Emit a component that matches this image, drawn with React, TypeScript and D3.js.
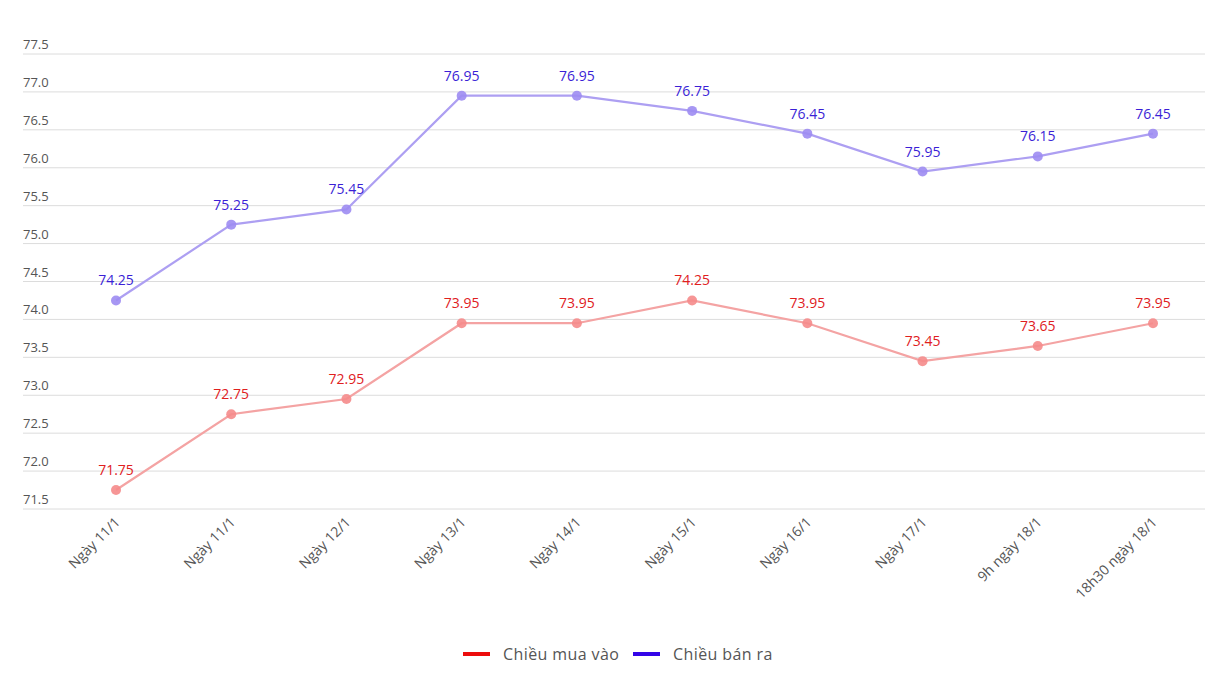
import React from "react";
import * as d3 from "d3";

const categories = ["Ngày 11/1", "Ngày 11/1", "Ngày 12/1", "Ngày 13/1", "Ngày 14/1", "Ngày 15/1", "Ngày 16/1", "Ngày 17/1", "9h ngày 18/1", "18h30 ngày 18/1"];
const buyValues = [71.75, 72.75, 72.95, 73.95, 73.95, 74.25, 73.95, 73.45, 73.65, 73.95];
const sellValues = [74.25, 75.25, 75.45, 76.95, 76.95, 76.75, 76.45, 75.95, 76.15, 76.45];
const yTicks = [71.5, 72.0, 72.5, 73.0, 73.5, 74.0, 74.5, 75.0, 75.5, 76.0, 76.5, 77.0, 77.5];
const seriesNames = ["Chiều mua vào", "Chiều bán ra"];

const W = 1205, H = 677;
const FONT = "'Open Sans', 'Noto Sans', sans-serif";

export default function App() {
  const x = d3.scalePoint<number>().domain(d3.range(categories.length)).range([116, 1153]);
  const y = d3.scaleLinear().domain([71.5, 77.5]).range([509, 54]);
  const line = d3.line<number>().x((_, i) => x(i)!).y((d) => y(d));
  const series = [
    { name: seriesNames[0], values: buyValues, line: "#f4a3a3", dot: "#f58b8b", label: "#e0201e", legend: "#ec0d0d" },
    { name: seriesNames[1], values: sellValues, line: "#ad9ff2", dot: "#9d8cf2", label: "#3b1fd6", legend: "#3305e8" },
  ];
  return (
    <svg width={W} height={H} style={{ position: "absolute", left: 0, top: 0, fontFamily: FONT }}>
      <rect width={W} height={H} fill="#fff" />
      {yTicks.map((t) => (
        <g key={t}>
          <line x1={23} x2={1205} y1={y(t)} y2={y(t)} stroke="#dcdcdc" strokeWidth={1} />
          <text x={23} y={y(t) - 5} fontSize={13} fill="#555">{t.toFixed(1)}</text>
        </g>
      ))}
      {categories.map((c, i) => (
        <text key={i} transform={`translate(${x(i)! + 5},${523}) rotate(-45)`} textAnchor="end" fontSize={14} fill="#555">{c}</text>
      ))}
      {series.map((s) => (
        <g key={s.name}>
          <path d={line(s.values)!} fill="none" stroke={s.line} strokeWidth={2.2} />
          {s.values.map((v, i) => (
            <circle key={i} cx={x(i)} cy={y(v)} r={5} fill={s.dot} fillOpacity={0.9} />
          ))}
          {s.values.map((v, i) => (
            <text key={"l" + i} x={x(i)} y={y(v) - 15} textAnchor="middle" fontSize={14} fill={s.label}>{v.toFixed(2)}</text>
          ))}
        </g>
      ))}
      <g>
        <rect x={463} y={652} width={27} height={4} fill={series[0].legend} />
        <text x={503} y={660} fontSize={16} letterSpacing={0.4} fill="#555">{series[0].name}</text>
        <rect x={633} y={652} width={27} height={4} fill={series[1].legend} />
        <text x={673} y={660} fontSize={16} letterSpacing={0.4} fill="#555">{series[1].name}</text>
      </g>
    </svg>
  );
}
